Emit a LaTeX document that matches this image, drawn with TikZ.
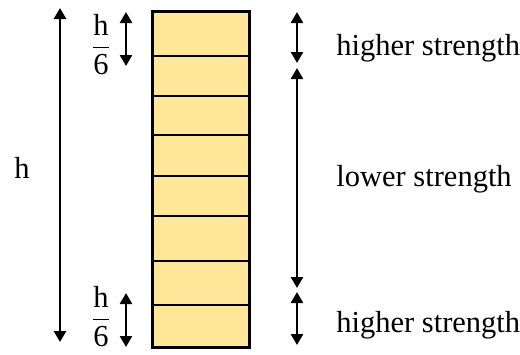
\documentclass[tikz,border=0pt]{standalone}
\usepackage{amsmath}
\usepackage{fontspec}
\setmainfont{Liberation Serif}
\usetikzlibrary{arrows.meta, positioning, calc}
\definecolor{layerfill}{RGB}{255,230,153}
\tikzset{
  dimarrow/.style={{Triangle[width=6pt,length=5.5pt]}-{Triangle[width=6pt,length=5.5pt]}, line width=1.3pt},
  layerline/.style={draw=black, line width=1pt},
  label/.style={font=\fontsize{15.25}{18}\selectfont, inner sep=0pt},
}

\begin{document}
\begin{tikzpicture}[x=0.5pt, y=-0.5pt]
\useasboundingbox (0,0) rectangle (520,354);

% ── layered column ───────────────────────────────────────────────────────────
\fill[layerfill] (152,11) rectangle (249,347);
\foreach \ly in {56,96,135,176,216,261,305}{
  \draw[layerline] (152,\ly) -- (249,\ly);
}
\draw[black, line width=1.5pt] (152,11) rectangle (249,347);

% ── total height ─────────────────────────────────────────────────────────────
\coordinate (htop) at (60,8);
\coordinate (hbot) at (60,342);
\draw[dimarrow] (htop) -- (hbot);
\node[label, anchor=base] (hlabel) at (22,178) {h};

% ── end zones h/6 ────────────────────────────────────────────────────────────
\coordinate (ftop1) at (126,12);
\coordinate (fbot1) at (126,66);
\draw[dimarrow] (ftop1) -- (fbot1);
\node[label, anchor=base] (frac1) at (101,55) {$\dfrac{\mbox{h}}{\mbox{6}}$};

\coordinate (ftop2) at (126,293);
\coordinate (fbot2) at (126,347);
\draw[dimarrow] (ftop2) -- (fbot2);
\node[label, anchor=base] (frac2) at (101,327) {$\dfrac{\mbox{h}}{\mbox{6}}$};

% ── strength zones ───────────────────────────────────────────────────────────
\coordinate (s1) at (297,12);
\coordinate (s2) at (297,63);
\coordinate (s3) at (297,68);
\coordinate (s4) at (297,288);
\coordinate (s5) at (297,292);
\coordinate (s6) at (297,345);
\draw[dimarrow] (s1) -- (s2);
\draw[dimarrow] (s3) -- (s4);
\draw[dimarrow] (s5) -- (s6);

\node[label, anchor=base west] (upper) at (336,55)  {higher strength};
\node[label, anchor=base west] (mid)   at (336,186) {lower strength};
\node[label, anchor=base west] (lower) at (336,332) {higher strength};

\end{tikzpicture}
\end{document}
